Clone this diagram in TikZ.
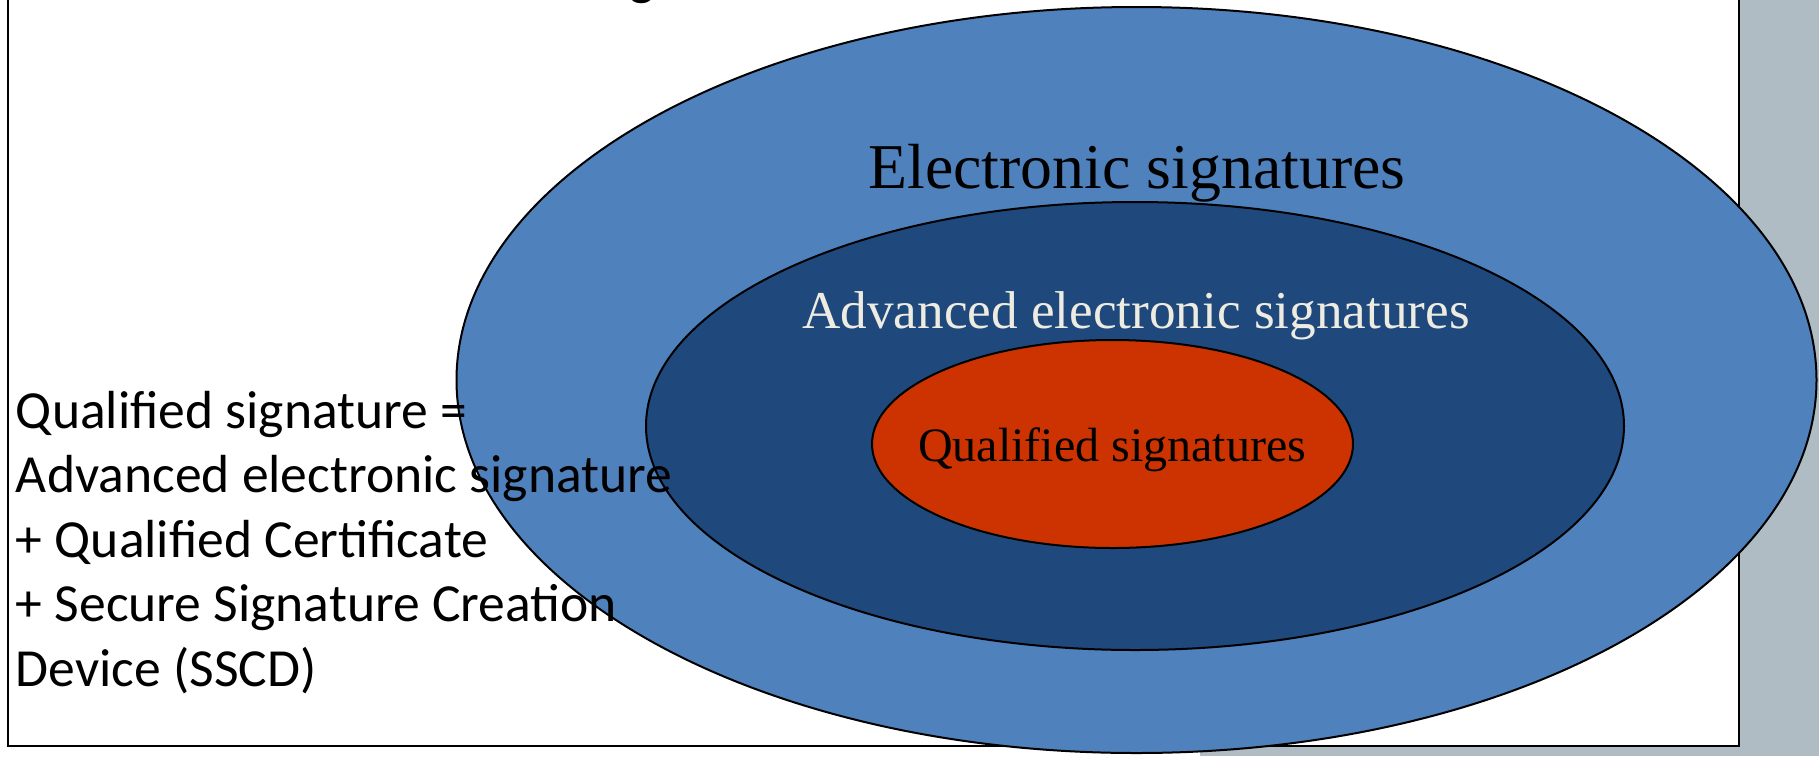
\documentclass[tikz,border=0pt]{standalone}
\usepackage{fontspec}
\setmainfont{Liberation Serif}
\newfontfamily\calibrifont{Carlito}
\definecolor{outerblue}{HTML}{4F81BD}
\definecolor{midblue}{HTML}{1F497D}
\definecolor{innerred}{HTML}{CC3300}
\definecolor{shadowgray}{HTML}{AFBCC3}
\definecolor{advtext}{HTML}{EEECE1}
\begin{document}
\begin{tikzpicture}[x=0.5pt,y=-0.5pt,
  every node/.style={inner sep=0pt, outer sep=0pt},
  ring/.style={draw=black, line width=1pt},
  deftext/.style={anchor=base west, font=\calibrifont\fontsize{26.8}{32}\selectfont},
]
\useasboundingbox (0,0) rectangle (1820,756);
\clip (0,0) rectangle (1820,756);
% shadow / background
\fill[shadowgray] (1740,-20) rectangle (1819,756);
\fill[shadowgray] (1200,747) rectangle (1819,756);
% white frame
\draw[fill=white, line width=1pt] (8,-20) rectangle (1739,746);
% cut-off title fragment
\node[anchor=base, font=\calibrifont\fontsize{26.8}{32}\selectfont] (title) at (642,-6) {g};
% ellipses
\draw[ring, fill=outerblue] (1136.5,380) ellipse [x radius=680, y radius=373];
\draw[ring, fill=midblue] (1135,426) ellipse [x radius=489, y radius=224];
\draw[ring, fill=innerred] (1112.5,444) ellipse [x radius=240.5, y radius=104];
% labels
\node[anchor=base, font=\fontsize{31.9}{38}\selectfont] (es) at (1137,188) {Electronic signatures};
\node[anchor=base, text=advtext, font=\fontsize{26.6}{32}\selectfont] (aes) at (1136,328) {Advanced electronic signatures};
\node[anchor=base, font=\fontsize{24}{29}\selectfont] (qs) at (1112,461) {Qualified signatures};
% definition text
\node[deftext] (l1) at (16,428) {Qualified signature =};
\node[deftext] (l2) at (16,492.5) {Advanced electronic signature};
\node[deftext] (l3) at (16,557) {+ Qualified Certificate};
\node[deftext] (l4) at (16,621.5) {+ Secure Signature Creation};
\node[deftext] (l5) at (16,686) {Device (SSCD)};
\end{tikzpicture}
\end{document}
